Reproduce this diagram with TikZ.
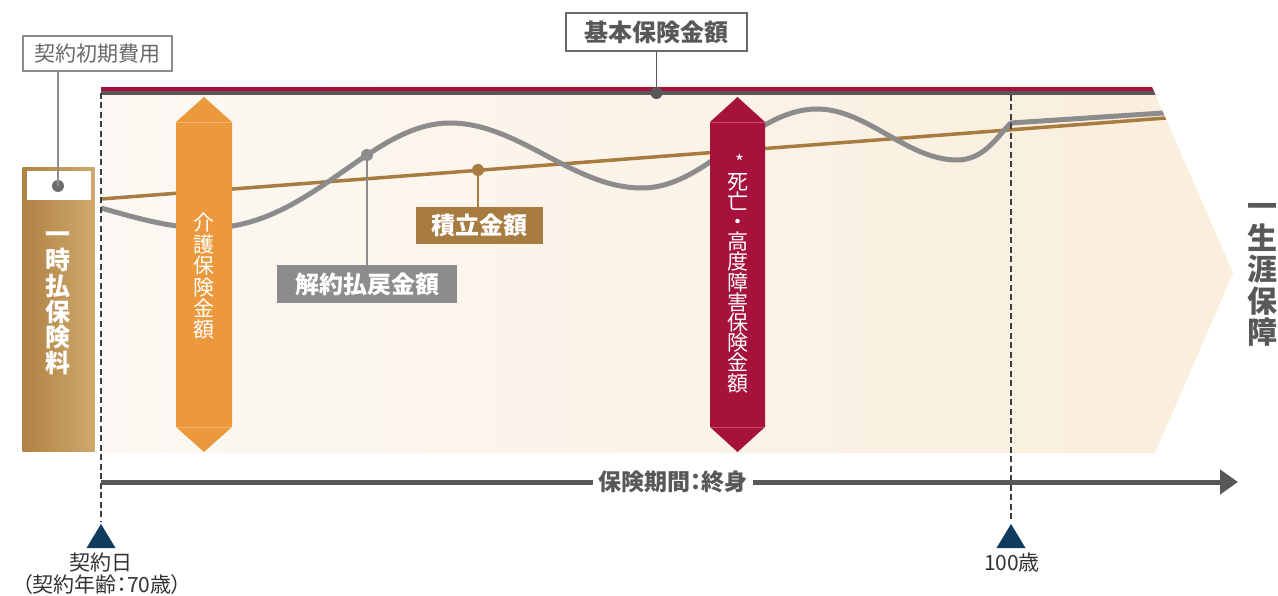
\documentclass[tikz,border=0pt]{standalone}
\usepackage{fontspec}
\setmainfont{Noto Sans CJK JP}
\newfontfamily\jpp{Noto Sans CJK JP}[RawFeature=+palt]
\usetikzlibrary{arrows.meta}
\definecolor{crim}{HTML}{A6123B}
\definecolor{dgray}{HTML}{595757}
\definecolor{ora}{HTML}{EC993D}
\definecolor{brn}{HTML}{A87C41}
\definecolor{wgray}{HTML}{8C8C8C}
\definecolor{navy}{HTML}{0E3A5E}
\definecolor{bgL}{HTML}{FBF8F3}
\definecolor{bgR}{HTML}{FAEEDC}
\definecolor{colL}{HTML}{AF8244}
\definecolor{colR}{HTML}{D0A86C}
\definecolor{txt}{HTML}{333333}
\begin{document}
\begin{tikzpicture}[x=1pt,y=-1pt,
  dashline/.style={draw=txt!95, line width=2, dash pattern=on 6pt off 3.5pt},
  tri/.style={fill=navy},
  vtext/.style={align=center, inner sep=0, text=white},
  lbl/.style={inner sep=0, align=center},
  dotc/.style={circle, inner sep=0, minimum size=12},
]
\useasboundingbox (0,0) rectangle (1278,596);
\fill[white] (0,0) rectangle (1278,596);

% background region
\shade[left color=bgL, right color=bgR] (101,86) -- (1151.5,86) -- (1233,273) -- (1155,453) -- (101,453) -- cycle;

% lines clipped to region
\begin{scope}
\clip (101,80) -- (1149,80) -- (1233,273) -- (1155,453) -- (101,453) -- cycle;
\draw[crim, line width=4] (101,89) -- (1250,89);
\draw[dgray, line width=3.5] (101,93) -- (1250,93);
\draw[brn, line width=3.5] (101,199) -- (1250,111.6);
\draw[wgray, line width=5, line join=round] (101,208)
  .. controls (150,222) and (175,228) .. (208,228)
  .. controls (310,228) and (370,123) .. (450,123)
  .. controls (519,123) and (573,188) .. (642,188)
  .. controls (706,188) and (753,109) .. (817,109)
  .. controls (867,109) and (907,160) .. (957,160)
  .. controls (985,160) and (998,135) .. (1011,123)
  -- (1250,107.3);
\end{scope}

% left column (single premium)
\shade[left color=colL, right color=colR] (22.5,168) rectangle (94.5,451);
\fill[white] (26.5,171) rectangle (90.5,200);
\node[vtext, font=\fontsize{25}{25.8}\selectfont\bfseries] (ichiji) at (58,303.5) {一\\時\\払\\保\\険\\料};

% dashed verticals
\draw[dashline] (101,93) -- (101,522);
\draw[dashline] (1011,95) -- (1011,522);

% arrows (benefit amounts)
\fill[ora] (204,97) -- (232,122) -- (232,427) -- (204,452) -- (176,427) -- (176,122) -- cycle;
\draw[white, opacity=0.25, line width=0.6] (176,122) -- (232,122) (176,427) -- (232,427);
\node[vtext, font=\fontsize{21}{21.4}\selectfont] (kaigo) at (204,276.5) {介\\護\\保\\険\\金\\額};

\fill[crim] (737.5,97) -- (765,122) -- (765,427) -- (737.5,452) -- (710,427) -- (710,122) -- cycle;
\draw[white, opacity=0.25, line width=0.6] (710,122) -- (765,122) (710,427) -- (765,427);
\node[vtext, font=\fontsize{19}{19}\selectfont] (ast) at (740,162) {*};
\node[vtext, font=\fontsize{21}{20.2}\selectfont] (shibo) at (737.5,283) {死\\亡\\・\\高\\度\\障\\害\\保\\険\\金\\額};

% label boxes with leaders
\node[lbl, draw=dgray!90, line width=1.5, fill=white, text=dgray, minimum width=181, minimum height=38, font=\fontsize{24}{24}\selectfont\bfseries] (kihon) at (656.5,32) {基本保険金額};
\node[dotc, fill=dgray] (kdot) at (656.5,93) {};
\draw[dgray, line width=1.5] (kihon.south) -- (kdot.center);

\node[lbl, draw=wgray, line width=1.5, fill=white, text=dgray!90, minimum width=149, minimum height=35, font=\fontsize{21}{21}\selectfont] (shoki) at (97.5,53.5) {契約初期費用};
\node[dotc, fill=gray!85!black] (sdot) at (58,186) {};
\draw[wgray, line width=1.5] (shoki.south -| sdot) -- (sdot.center);

\node[dotc, fill=wgray] (hdot) at (367,155) {};
\node[lbl, fill=wgray, text=white, minimum width=180, minimum height=38, font=\fontsize{24}{24}\selectfont\bfseries] (harai) at (367,284) {解約払戻金額};
\draw[wgray, line width=1.5] (hdot.center) -- (harai.north);

\node[dotc, fill=brn] (tdot) at (478,170) {};
\node[lbl, fill=brn, text=white, minimum width=127, minimum height=37, font=\fontsize{24}{24}\selectfont\bfseries] (tsumi) at (479.5,225.5) {積立金額};
\draw[brn, line width=1.5] (tdot.center) -- (tsumi.north -| tdot);

% lifetime coverage text
\node[vtext, text=dgray, font=\fontsize{30}{31.5}\selectfont\bfseries] (shogai) at (1262,275) {一\\生\\涯\\保\\障};

% time axis
\coordinate (ax0) at (101,482);
\coordinate (ax1) at (1238,482);
\draw[dgray, line width=5, -{Triangle[length=18pt,width=24pt]}] (ax0) -- (ax1);
\node[lbl, fill=white, inner xsep=5, inner ysep=2, text=dgray, font=\jpp\fontsize{23}{23}\selectfont\bfseries] (kikan) at (673,482) {保険期間：終身};

% markers
\fill[tri] (101,524) -- (115.5,548) -- (86.5,548) -- cycle;
\fill[tri] (1011,524) -- (1025.5,548) -- (996.5,548) -- cycle;
\node[lbl, text=txt, font=\fontsize{21}{21}\selectfont] (keiyaku) at (101,563) {契約日};
\node[lbl, text=txt, font=\jpp\fontsize{21}{21}\selectfont] (nenrei) at (102,585) {（契約年齢：70歳）};
\node[lbl, text=txt, font=\fontsize{21}{21}\selectfont] (hyaku) at (1012,563) {100歳};
\end{tikzpicture}
\end{document}
